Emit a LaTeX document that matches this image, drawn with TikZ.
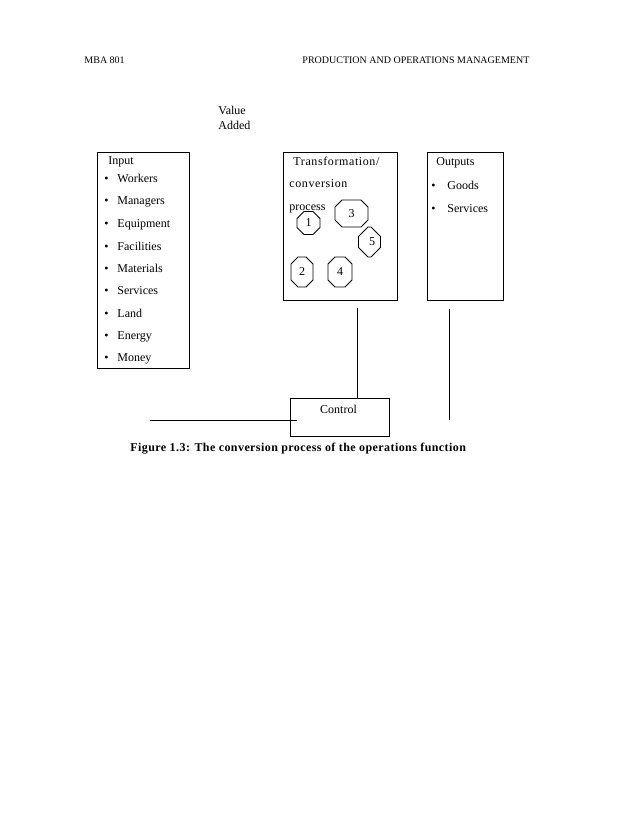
\documentclass[tikz,border=0pt]{standalone}
\usepackage{fontspec}
\setmainfont{Liberation Serif}
\newfontfamily\spacedfont[LetterSpace=5]{Liberation Serif}
\newfontfamily\capfont[LetterSpace=3.5]{Liberation Serif}
\usetikzlibrary{shapes.misc}
\begin{document}
\begin{tikzpicture}[x=1pt,y=-1pt,line width=0.9pt,
  box/.style={draw,anchor=north west,inner sep=0pt,outer sep=0pt},
  txt/.style={anchor=base west,inner sep=0pt,font=\fontsize{12}{14}\selectfont},
  hdr/.style={anchor=base west,inner sep=0pt,font=\fontsize{10}{12}\selectfont},
  oct/.style={draw,chamfered rectangle,chamfered rectangle xsep=9pt,chamfered rectangle ysep=9pt,inner sep=0pt,font=\fontsize{12}{14}\selectfont}]
\useasboundingbox (0,0) rectangle (638,826);
% header
\node[hdr] (h1) at (84,63.5) {MBA 801};
\node[hdr] (h2) at (302,63.5) {PRODUCTION AND OPERATIONS MANAGEMENT};
% value added
\node[txt] (va1) at (218,115) {Value};
\node[txt] (va2) at (218,130) {Added};
% boxes
\node[box,minimum width=92pt,minimum height=216pt] (input) at (97,152) {};
\node[box,minimum width=114pt,minimum height=148pt] (trans) at (283,152) {};
\node[box,minimum width=76pt,minimum height=148pt] (outp) at (427,152) {};
\node[box,minimum width=99pt,minimum height=38pt] (ctrl) at (290,398) {};
% input list
\node[txt] (in0) at (108,165) {Input};
\foreach \t/\y [count=\i] in {Workers/183,Managers/205,Equipment/227,Facilities/250,Materials/272,Services/294,Land/317,Energy/339,Money/361}{
  \node[txt] (ib\i) at (104,\y) {•};
  \node[txt] (it\i) at (117,\y) {\t};
}
% transformation
\node[txt,font=\spacedfont\fontsize{12}{14}\selectfont] (tr1) at (293,166) {Transformation/};
\node[txt,font=\spacedfont\fontsize{12}{14}\selectfont] (tr2) at (289,188) {conversion};
\node[txt] (tr3) at (289,211) {process};
\node[oct,minimum width=23pt,minimum height=23pt] (o1) at (308.5,223) {1};
\node[oct,minimum width=33pt,minimum height=27pt] (o3) at (351.5,213.5) {3};
\node[oct,minimum width=22pt,minimum height=30pt] (o5) at (369.5,242) {\hspace*{5pt}5};
\node[oct,minimum width=22pt,minimum height=30pt] (o2) at (302,272) {2};
\node[oct,minimum width=24pt,minimum height=30pt] (o4) at (340,272) {4};
% outputs
\node[txt] (ou0) at (436,166) {Outputs};
\node[txt] (ob1) at (431,190) {•};
\node[txt] (ot1) at (447,190) {Goods};
\node[txt] (ob2) at (431,212) {•};
\node[txt] (ot2) at (447,212) {Services};
% control
\node[txt,anchor=base] (ctl) at (338.5,413) {Control};
% lines
\coordinate (c1) at (357,308);
\draw (c1) -- (c1 |- ctrl.north);
\coordinate (r1) at (449,309);
\coordinate (r2) at (449,420);
\draw (r1) -- (r2);
\coordinate (l1) at (150,420);
\coordinate (l2) at (297,420);
\draw (l1) -- (l2);
% caption
\node[anchor=base west,inner sep=0pt,font=\capfont\bfseries\fontsize{12}{14}\selectfont] (cap) at (130,451.5) {Figure 1.3: The conversion process of the operations function};
\end{tikzpicture}
\end{document}
